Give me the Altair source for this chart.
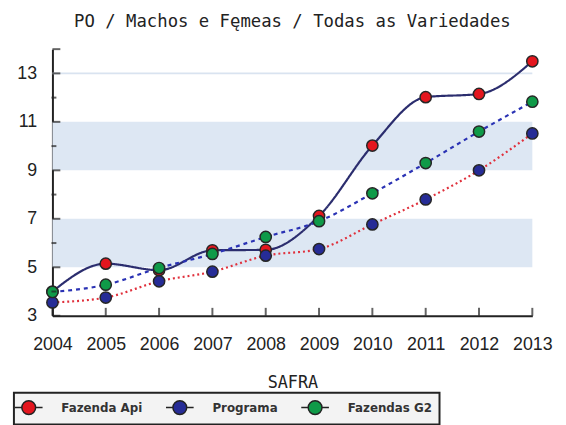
import altair as alt
import pandas as pd

years = [2004, 2005, 2006, 2007, 2008, 2009, 2010, 2011, 2012, 2013]
fazenda_api = [4.0, 5.15, 4.88, 5.7, 5.72, 7.12, 10.02, 12.02, 12.15, 13.5]
programa = [3.55, 3.75, 4.42, 4.82, 5.48, 5.75, 6.77, 7.8, 9.0, 10.52]
fazendas_g2 = [3.98, 4.28, 4.97, 5.55, 6.25, 6.9, 8.05, 9.3, 10.6, 11.83]

series_names = ["Fazenda Api", "Programa", "Fazendas G2"]
marker_colors = ["#e4161e", "#262c96", "#0f9a48"]
# line styles, listed in alphabetical series order (Fazenda Api, Fazendas G2, Programa)
line_colors_sorted = ["#2b2d6e", "#2a32b4", "#e0303c"]
line_dashes_sorted = [[1, 0], [4, 4], [2, 3]]

band_low = [5, 9]
band_high = [7, 11]
grid_values = [13]
y_label_values = [3, 5, 7, 9, 11, 13]
y_major_ticks = [3, 5, 7, 9, 11, 13, 14]
y_minor_ticks = [4, 6, 8, 10, 12]

W, H = 486, 270

rows = []
for name, vals in zip(series_names, [fazenda_api, programa, fazendas_g2]):
    for yr, v in zip(years, vals):
        rows.append({"year": yr, "value": v, "series": name})
df = pd.DataFrame(rows)

xscale = alt.Scale(domain=[2004, 2013], nice=False, zero=False)
yscale = alt.Scale(domain=[3, 14], nice=False, zero=False)

xaxis = alt.Axis(values=years, format="d", ticks=False, tickSize=0, grid=False,
                 domainColor="#222", domainWidth=2,
                 labelFont="Liberation Sans", labelFontSize=18, labelColor="#222",
                 labelPadding=20, labelFlush=False, labelOverlap=False,
                 title="SAFRA", titleFont="DejaVu Sans Mono", titleFontSize=17,
                 titleFontWeight="normal", titleColor="#222",
                 titleY=60, titleBaseline="top")
yaxis = alt.Axis(values=y_label_values, ticks=False, tickSize=0, grid=False,
                 domainColor="#222", domainWidth=2,
                 labelFont="Liberation Sans", labelFontSize=18, labelColor="#222",
                 labelPadding=16, labelFlush=False, labelOverlap=False,
                 minExtent=38, title=None)

bands = alt.Chart(pd.DataFrame({"lo": band_low, "hi": band_high})).mark_rect(
    color="#dde7f3").encode(
    y=alt.Y("lo:Q", scale=yscale, axis=yaxis),
    y2="hi:Q",
    x=alt.value(0), x2=alt.value(W))

grid = alt.Chart(pd.DataFrame({"g": grid_values})).mark_rule(
    color="#d9e3f0", strokeWidth=2).encode(y=alt.Y("g:Q", scale=yscale))

lines = alt.Chart(df).mark_line(interpolate="monotone", strokeWidth=2.2).encode(
    x=alt.X("year:Q", scale=xscale, axis=xaxis),
    y=alt.Y("value:Q", scale=yscale),
    color=alt.Color("series:N", scale=alt.Scale(range=line_colors_sorted), legend=None),
    strokeDash=alt.StrokeDash("series:N", scale=alt.Scale(range=line_dashes_sorted), legend=None),
)

symbol_path = "M-2,0L-1,0M1,0L2,0M1,0A1,1,0,1,1,-1,0A1,1,0,1,1,1,0Z"

points = alt.Chart(df).mark_point(filled=True, size=130, stroke="#262626",
                                  strokeWidth=1.5, opacity=1, shape="circle").encode(
    x=alt.X("year:Q", scale=xscale),
    y=alt.Y("value:Q", scale=yscale),
    fill=alt.Fill("series:N", scale=alt.Scale(domain=series_names, range=marker_colors),
                  legend=alt.Legend(orient="none", legendX=-39, legendY=348,
                                    direction="horizontal", title=None,
                                    fillColor="#f3f3f3", strokeColor="#222",
                                    padding=7, columnPadding=20,
                                    labelFont="DejaVu Sans", labelFontSize=12,
                                    labelFontWeight="bold", labelColor="#333",
                                    labelOffset=25, symbolType=symbol_path,
                                    symbolSize=196, symbolStrokeWidth=1.5,
                                    symbolStrokeColor="#222")),
)

ytick_major = alt.Chart(pd.DataFrame({"t": y_major_ticks})).mark_tick(
    orient="horizontal", size=8, thickness=2, color="#222", xOffset=4).encode(
    y=alt.Y("t:Q", scale=yscale), x=alt.datum(2004, scale=xscale))
ytick_minor = alt.Chart(pd.DataFrame({"t": y_minor_ticks})).mark_tick(
    orient="horizontal", size=5, thickness=2, color="#222", xOffset=1.5).encode(
    y=alt.Y("t:Q", scale=yscale), x=alt.datum(2004, scale=xscale))
xtick = alt.Chart(pd.DataFrame({"yr": years})).mark_tick(
    orient="vertical", size=8, thickness=2, color="#222", yOffset=-4).encode(
    x=alt.X("yr:Q", scale=xscale), y=alt.datum(3, scale=yscale))

chart = alt.layer(bands, grid, lines, points, ytick_major, ytick_minor, xtick).properties(
    width=W, height=H,
    title=alt.TitleParams("PO / Machos e Fęmeas / Todas as Variedades",
                          font="DejaVu Sans Mono", fontSize=17.5, fontWeight="normal",
                          color="#222", anchor="middle", offset=18),
    padding={"left": 5, "top": 2, "right": 5, "bottom": 0},
    background="white",
).configure_view(stroke=None).configure_legend(strokeWidth=2)

chart.save("out.html", embed_options={"renderer": "svg", "actions": False})
